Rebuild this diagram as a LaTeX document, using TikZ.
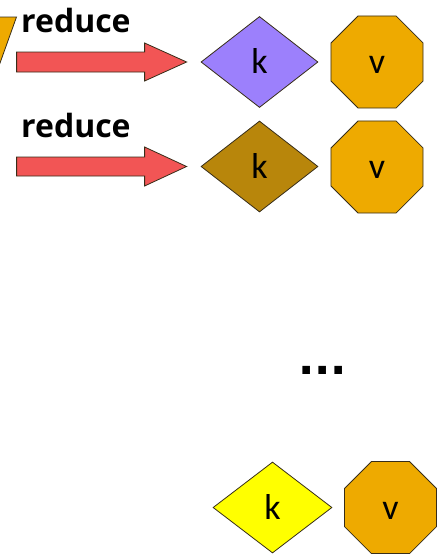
\documentclass[tikz,border=0pt]{standalone}
\usepackage{fontspec}
\setmainfont{Carlito}
\newfontfamily\redfont{Open Sans}
\newfontfamily\dotfont{DejaVu Sans}
\usetikzlibrary{shapes.geometric}
\definecolor{kpurple}{RGB}{156,128,252}
\definecolor{kbrown}{RGB}{184,134,11}
\definecolor{kyellow}{RGB}{255,255,0}
\definecolor{vorange}{RGB}{238,170,0}
\definecolor{arrred}{RGB}{242,85,85}
\definecolor{edgec}{RGB}{55,45,25}
\tikzset{
  keybox/.style={diamond, draw=edgec, line width=0.8pt, inner sep=0pt,
    minimum width=117pt, minimum height=91pt, text height=23pt, text depth=0pt,
    font=\fontsize{36}{36}\selectfont},
  valbox/.style={regular polygon, regular polygon sides=8, draw=edgec, line width=0.8pt,
    fill=vorange, inner sep=0pt, minimum size=99.6pt, text height=23pt, text depth=0pt,
    font=\fontsize{36}{36}\selectfont},
  blockarrow/.style={draw=edgec, line width=0.8pt, fill=arrred, line join=miter},
  lbl/.style={anchor=base west, inner sep=0pt, font=\redfont\bfseries\fontsize{32}{32}\selectfont},
}
\begin{document}
\begin{tikzpicture}[x=1pt,y=-1pt]
\useasboundingbox (0,0) rectangle (439,554);
\clip (0,0) rectangle (439,554);
% partial funnel at top left
\draw[fill=vorange, draw=edgec, line width=0.8pt] (-5,17) -- (16.5,17) -- (-5,77) -- cycle;
% nodes
\node[keybox, fill=kpurple] (k1) at (259.5,62) {k};
\node[valbox] (v1) at (377,62) {v};
\node[keybox, fill=kbrown] (k2) at (259.5,166.5) {k};
\node[valbox] (v2) at (377,167) {v};
\node[keybox, fill=kyellow, minimum width=119pt] (k3) at (272.5,507.5) {k};
\node[valbox] (v3) at (390.5,507.5) {v};
\node[anchor=base, inner sep=0pt, font=\dotfont\bfseries\fontsize{43}{43}\selectfont] (dots) at (322.5,374.5) {...};
% labels
\node[lbl] (r1) at (21,32) {reduce};
\node[lbl] (r2) at (21,137) {reduce};
% block arrows
\coordinate (t1) at ([xshift=-14pt]k1.west);
\coordinate (t2) at ([xshift=-14pt]k2.west);
\draw[blockarrow] (t1) -- ++(-42,-19) -- ++(0,9) -- ++(-128,0) -- ++(0,20) -- ++(128,0) -- ++(0,9) -- cycle;
\draw[blockarrow] (t2) -- ++(-42,-19.5) -- ++(0,10) -- ++(-128,0) -- ++(0,19) -- ++(128,0) -- ++(0,10) -- cycle;
\end{tikzpicture}
\end{document}
